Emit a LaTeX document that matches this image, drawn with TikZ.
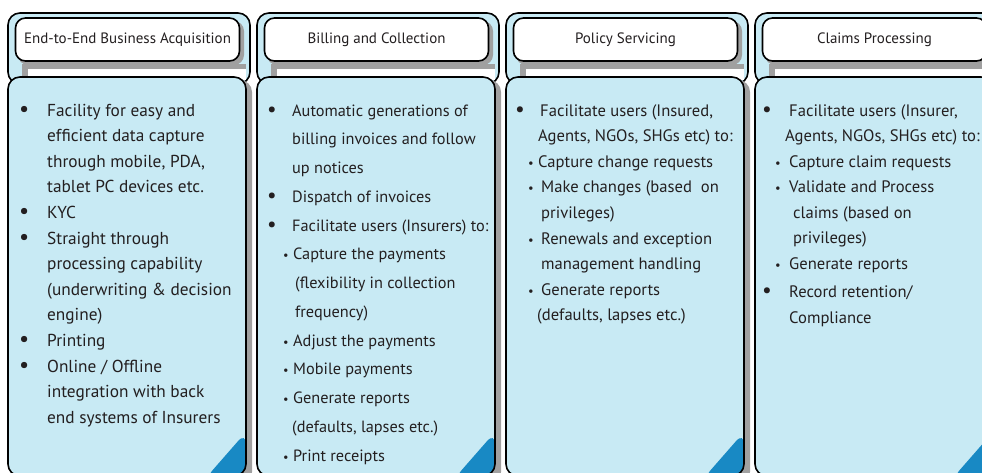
\documentclass[tikz,border=0pt]{standalone}
\usepackage{fontspec}
\setmainfont{PT Sans}
\usetikzlibrary{positioning}

\definecolor{panelblue}{RGB}{200,234,244}
\definecolor{cornerblue}{RGB}{24,137,196}
\definecolor{shadegray}{RGB}{160,160,160}
\definecolor{ink}{RGB}{35,31,32}

\newcommand{\bigdot}[1]{\makebox[#1][l]{\scalebox{1.3}{\textbullet}}}
\newcommand{\smalldot}[2]{\hspace*{#1}\makebox[#2][l]{\scalebox{0.75}{\textbullet}}}
\newcommand{\indentby}[1]{\hspace*{#1}}

\begin{document}
\begin{tikzpicture}[x=1pt,y=-1pt,
    frame/.style={draw=black,line width=1.6pt,fill=panelblue,rounded corners=12pt},
    headbox/.style={draw=black,line width=1.6pt,fill=white,rounded corners=10pt,
      minimum width=224pt,minimum height=43pt,inner sep=0pt,
      font=\fontsize{15}{17}\selectfont,text=ink},
    shade/.style={fill=shadegray,rounded corners=10pt},
    bodytext/.style={anchor=base west,align=left,inner sep=0pt,text=ink}]
\useasboundingbox (0,0) rectangle (982,473);
\clip (0,0) rectangle (982,473);

% four columns: frame, header, strip, body
\foreach \x/\name/\title in {8/acq/End-to-End Business Acquisition,
    257/bill/Billing and Collection,506/serv/Policy Servicing,755/claim/Claims Processing}{
  \path[frame] (\x,13) rectangle (\x+242,84);
  \path[shade] (\x+10,21) rectangle (\x+236,65);
  \node[headbox] (head-\name) at (\x+119.5,39.5) {\title};
  \fill[shadegray] (\x+14,64) rectangle (\x+238,80);
  \fill[white] (\x+20,69) rectangle (\x+238,80);
  \path[shade,rounded corners=12pt] (\x+5,80) rectangle (\x+244,484);
  \path[frame,path picture={\fill[cornerblue] (\x+196,480) -- (\x+238,480) -- (\x+238,432) -- cycle;}]
    (\x,77) rectangle (\x+238,476);
}

% body texts, placed at the baseline of their last line
\node[bodytext,font=\fontsize{17.3}{25.6}\selectfont] (txt-acq) at (19,423.2) {%
\bigdot{28pt}Facility for easy and\\
\indentby{28pt}efficient data capture\\
\indentby{28pt}through mobile, PDA,\\
\indentby{28pt}tablet PC devices etc.\\
\bigdot{28pt}KYC\\
\bigdot{28pt}Straight through\\
\indentby{28pt}processing capability\\
\indentby{28pt}(underwriting \& decision\\
\indentby{28pt}engine)\\
\bigdot{28pt}Printing\\
\bigdot{28pt}Online / Offline\\
\indentby{28pt}integration with back\\
\indentby{28pt}end systems of Insurers};

\node[bodytext,font=\fontsize{16.3}{28.75}\selectfont] (txt-bill) at (267,461) {%
\bigdot{25pt}Automatic generations of\\
\indentby{25pt}billing invoices and follow\\
\indentby{25pt}up notices\\
\bigdot{25pt}Dispatch of invoices\\
\bigdot{25pt}Facilitate users (Insurers) to:\\
\smalldot{16pt}{10pt}Capture the payments\\
\indentby{28pt}(flexibility in collection\\
\indentby{28pt}frequency)\\
\smalldot{16pt}{10pt}Adjust the payments\\
\smalldot{16pt}{10pt}Mobile payments\\
\smalldot{16pt}{10pt}Generate reports\\
\indentby{25pt}(defaults, lapses etc.)\\
\smalldot{16pt}{10pt}Print receipts};

\node[bodytext,font=\fontsize{16.6}{25.6}\selectfont] (txt-serv) at (515,320.8) {%
\bigdot{25pt}Facilitate users (Insured,\\
\indentby{23pt}Agents, NGOs, SHGs etc) to:\\
\smalldot{13pt}{10pt}Capture change requests\\
\smalldot{13pt}{13pt}Make changes (based\ \ on\\
\indentby{26pt}privileges)\\
\smalldot{13pt}{13pt}Renewals and exception\\
\indentby{26pt}management handling\\
\smalldot{13pt}{13pt}Generate reports\\
\indentby{22pt}(defaults, lapses etc.)};

\node[bodytext,font=\fontsize{16.6}{25.5}\selectfont] (txt-claim) at (762,323) {%
\bigdot{27pt}Facilitate users (Insurer,\\
\indentby{23pt}Agents, NGOs, SHGs etc) to:\\
\smalldot{13pt}{14pt}Capture claim requests\\
\smalldot{13pt}{14pt}Validate and Process\\
\indentby{31pt}claims (based on\\
\indentby{31pt}privileges)\\
\smalldot{13pt}{14pt}Generate reports\\[3pt]
\bigdot{27pt}Record retention/\\
\indentby{27pt}Compliance};
\end{tikzpicture}
\end{document}
